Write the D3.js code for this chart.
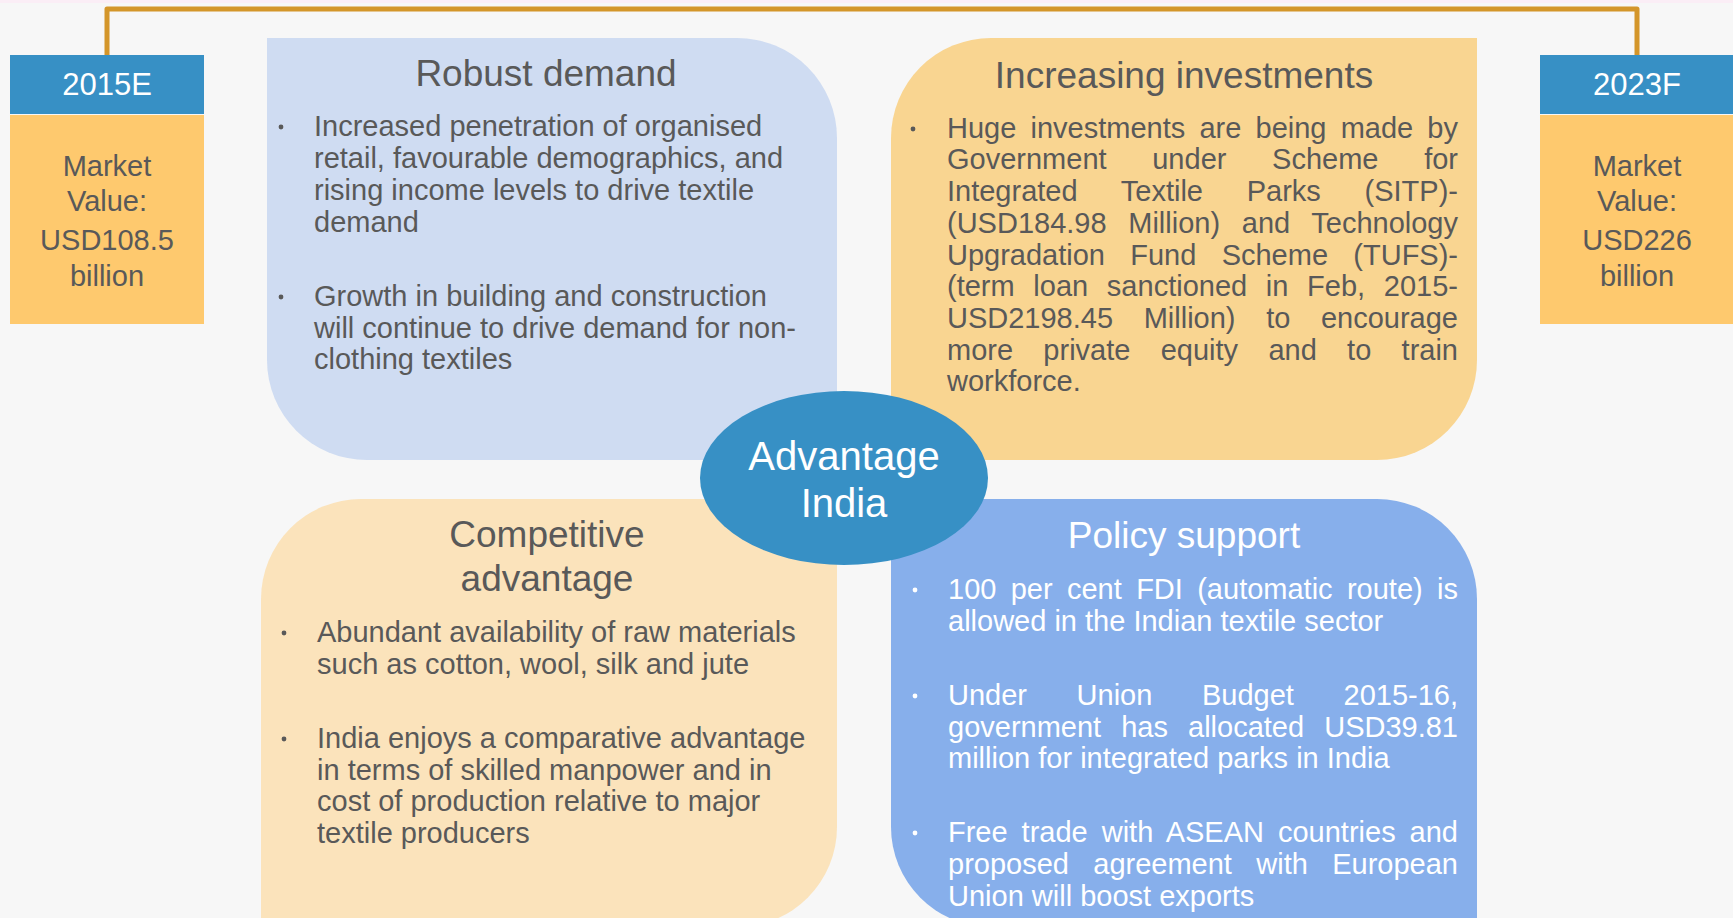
<!DOCTYPE html>
<html lang="en">
<head>
  <meta charset="utf-8">
  <title>Advantage India</title>
  <script src="https://cdn.jsdelivr.net/npm/d3@7"></script>
  <style>
    html, body { margin: 0; padding: 0; background: #f7f7f7; }
    svg { display: block; }
    text { font-family: "Liberation Sans", Arial, sans-serif; }
  </style>
</head>
<body>
<svg id="chart"></svg>
<script>

// side boxes
const boxYears = ["2015E", "2023F"];
const boxLines = [
  ["Market", "Value:", "USD108.5", "billion"],
  ["Market", "Value:", "USD226", "billion"]
];

// quadrant panels
const panelTitles = [
  ["Robust demand"],
  ["Increasing investments"],
  ["Competitive", "advantage"],
  ["Policy support"]
];
const panelBullets = [
  [
    ["Increased penetration of organised", "retail, favourable demographics, and", "rising income levels to drive textile", "demand"],
    ["Growth in building and construction", "will continue to drive demand for non-", "clothing textiles"]
  ],
  [
    ["Huge investments are being made by", "Government under Scheme for", "Integrated Textile Parks (SITP)-", "(USD184.98 Million) and Technology",
     "Upgradation Fund Scheme (TUFS)-", "(term loan sanctioned in Feb, 2015-", "USD2198.45 Million) to encourage", "more private equity and to train", "workforce."]
  ],
  [
    ["Abundant availability of raw materials", "such as cotton, wool, silk and jute"],
    ["India enjoys a comparative advantage", "in terms of skilled manpower and in", "cost of production relative to major", "textile producers"]
  ],
  [
    ["100 per cent FDI (automatic route) is", "allowed in the Indian textile sector"],
    ["Under Union Budget 2015-16,", "government has allocated USD39.81", "million for integrated parks in India"],
    ["Free trade with ASEAN countries and", "proposed agreement with European", "Union will boost exports"]
  ]
];
const centerLabel = ["Advantage", "India"];

// ---- layout ----
const W = 1733, H = 918;
const svg = d3.select("#chart").attr("width", W).attr("height", H);

const grey = "#595959";

const boxes = [
  {x: 10, w: 194, cx: 107},
  {x: 1540, w: 193, cx: 1637}
];

const panels = [
  {x: 267, y: 38, w: 570, h: 422, r: [0, 100, 0, 100], fill: "#cfdcf2", color: grey,
   titleX: 546, titleY: [86], bx: 281, tx: 314, right: 766, justify: false,
   rows: [[136, 168, 200, 232], [306, 338, 369]]},
  {x: 891, y: 38, w: 586, h: 422, r: [100, 0, 100, 0], fill: "#f9d591", color: grey,
   titleX: 1184, titleY: [88], bx: 913, tx: 947, right: 1458, justify: true,
   rows: [[138, 169, 201, 233, 265, 296, 328, 360, 391]]},
  {x: 261, y: 499, w: 576, h: 428, r: [100, 0, 100, 0], fill: "#fbe3bb", color: grey,
   titleX: 547, titleY: [547, 591], bx: 284, tx: 317, right: 810, justify: false,
   rows: [[642, 674], [748, 780, 811, 843]]},
  {x: 891, y: 499, w: 586, h: 428, r: [0, 100, 0, 100], fill: "#87afeb", color: "#ffffff",
   titleX: 1184, titleY: [548], bx: 915, tx: 948, right: 1458, justify: true,
   rows: [[599, 631], [705, 737, 768], [842, 874, 906]]}
];

// rect path with radius per corner: tl, tr, br, bl
function cornerRect(x, y, w, h, r) {
  const [tl, tr, br, bl] = r;
  const p = d3.path();
  p.moveTo(x + tl, y);
  p.lineTo(x + w - tr, y);
  if (tr) p.arcTo(x + w, y, x + w, y + tr, tr);
  p.lineTo(x + w, y + h - br);
  if (br) p.arcTo(x + w, y + h, x + w - br, y + h, br);
  p.lineTo(x + bl, y + h);
  if (bl) p.arcTo(x, y + h, x, y + h - bl, bl);
  p.lineTo(x, y + tl);
  if (tl) p.arcTo(x, y, x + tl, y, tl);
  p.closePath();
  return p.toString();
}

// faint strip at the very top
svg.append("rect").attr("x", 0).attr("y", 0).attr("width", W).attr("height", 3).attr("fill", "#fbeef6");

// connector line between the two year boxes
svg.append("path")
  .attr("d", "M" + boxes[0].cx + ",56 L" + boxes[0].cx + ",9 L" + boxes[1].cx + ",9 L" + boxes[1].cx + ",56")
  .attr("fill", "none")
  .attr("stroke", "#d4962a")
  .attr("stroke-width", 5)
  .attr("stroke-linejoin", "round");

// panels
const pg = svg.selectAll("g.panel").data(panels).enter().append("g").attr("class", "panel");

pg.append("path")
  .attr("d", d => cornerRect(d.x, d.y, d.w, d.h, d.r))
  .attr("fill", d => d.fill);

pg.each(function(d, i) {
  const g = d3.select(this);

  panelTitles[i].forEach((t, k) => {
    g.append("text")
      .attr("x", d.titleX).attr("y", d.titleY[k])
      .attr("text-anchor", "middle")
      .attr("font-size", 37)
      .attr("fill", d.color)
      .text(t);
  });

  panelBullets[i].forEach((lines, b) => {
    const ys = d.rows[b];
    g.append("circle")
      .attr("cx", d.bx).attr("cy", ys[0] - 9)
      .attr("r", 2.4)
      .attr("fill", d.color);

    lines.forEach((line, k) => {
      const t = g.append("text")
        .attr("x", d.tx).attr("y", ys[k])
        .attr("font-size", 29)
        .attr("fill", d.color)
        .text(line);
      // justify every line of a paragraph except the last one
      if (d.justify && k < lines.length - 1) {
        const spaces = line.split(" ").length - 1;
        const natural = t.node().getComputedTextLength();
        if (spaces > 0) t.attr("word-spacing", (d.right - d.tx - natural) / spaces);
      }
    });
  });
});

// side boxes
const bg = svg.selectAll("g.box").data(boxes).enter().append("g").attr("class", "box");

bg.append("rect")
  .attr("x", d => d.x).attr("y", 55).attr("width", d => d.w).attr("height", 59)
  .attr("fill", "#3790c5");
bg.append("rect")
  .attr("x", d => d.x).attr("y", 115).attr("width", d => d.w).attr("height", 209)
  .attr("fill", "#fec96e");
bg.append("text")
  .attr("x", d => d.cx).attr("y", 95)
  .attr("text-anchor", "middle")
  .attr("font-size", 31)
  .attr("fill", "#ffffff")
  .text((d, i) => boxYears[i]);

const boxLineY = [176, 211, 250, 286];
bg.each(function(d, i) {
  d3.select(this).selectAll("text.val")
    .data(boxLines[i]).enter().append("text")
    .attr("class", "val")
    .attr("x", d.cx).attr("y", (s, k) => boxLineY[k])
    .attr("text-anchor", "middle")
    .attr("font-size", 29)
    .attr("fill", grey)
    .text(s => s);
});

// centre ellipse
svg.append("ellipse")
  .attr("cx", 844).attr("cy", 478).attr("rx", 144).attr("ry", 87)
  .attr("fill", "#3790c5");
svg.selectAll("text.centre").data(centerLabel).enter().append("text")
  .attr("class", "centre")
  .attr("x", 844).attr("y", (d, i) => [470, 517][i])
  .attr("text-anchor", "middle")
  .attr("font-size", 40)
  .attr("fill", "#ffffff")
  .text(d => d);

</script>
</body>
</html>
